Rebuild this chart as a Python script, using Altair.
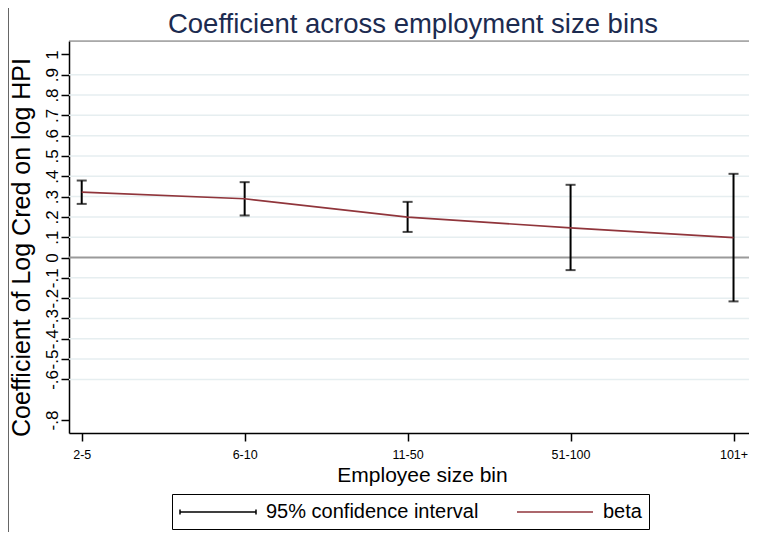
import json
import altair as alt
import pandas as pd

# ---- data ----
bins = ["2-5", "6-10", "11-50", "51-100", "101+"]
positions = [1, 2, 3, 4, 5]
beta = [0.322, 0.289, 0.199, 0.146, 0.098]
ci_low = [0.264, 0.207, 0.126, -0.062, -0.216]
ci_high = [0.379, 0.371, 0.274, 0.358, 0.412]
series_names = ["95% confidence interval", "beta"]
y_ticks = [-0.8, -0.6, -0.5, -0.4, -0.3, -0.2, -0.1, 0, 0.1, 0.2, 0.3, 0.4, 0.5, 0.6, 0.7, 0.8, 0.9, 1]
y_labels = ["-.8", "-.6", "-.5", "-.4", "-.3", "-.2", "-.1", "0", ".1", ".2", ".3", ".4", ".5", ".6", ".7", ".8", ".9", "1"]
grid_values = [-0.6, -0.5, -0.4, -0.3, -0.2, -0.1, 0.1, 0.2, 0.3, 0.4, 0.5, 0.6, 0.7, 0.8, 0.9]
zero_line = [0]
title_text = "Coefficient across employment size bins"

df = pd.DataFrame({"pos": positions, "bin": bins, "beta": beta, "lo": ci_low, "hi": ci_high})
grid_df = pd.DataFrame({"g": grid_values})
zero_df = pd.DataFrame({"z": zero_line})
one_df = pd.DataFrame({"a": [0]})

W, H = 680, 392
FONT = "Liberation Sans"
MAROON = "#90353b"

xscale = alt.Scale(domain=[0.922, 5.095], nice=False, zero=False)
yscale = alt.Scale(domain=[-0.864, 1.066], nice=False, zero=False)
cscale = alt.Scale(domain=series_names, range=["black", MAROON])

x_axis = alt.Axis(
    values=positions,
    labelExpr=json.dumps(bins) + "[datum.value - 1]",
    title="Employee size bin",
    grid=False, labelFlush=False,
    tickSize=8, tickColor="black", tickWidth=1.5,
    domainColor="black", domainWidth=1.5,
    labelFontSize=12.5, labelPadding=7, labelColor="black", labelFont=FONT,
    titleFontSize=21, titleFontWeight="normal", titleColor="black", titleFont=FONT,
    titleX=353, titleY=48, titleAlign="center", titleBaseline="alphabetic",
)
y_axis = alt.Axis(
    values=y_ticks,
    labelExpr=json.dumps(y_labels) + "[indexof(" + json.dumps(y_ticks) + ", datum.value)]",
    title="Coefficient of Log Cred on log HPI",
    grid=False, labelFlush=False, labelOverlap=False,
    tickSize=8, tickColor="black", tickWidth=1.5,
    domainColor="black", domainWidth=1.5,
    labelAngle=270, labelAlign="center", labelBaseline="alphabetic",
    labelFontSize=17, labelPadding=4, labelColor="black", labelFont=FONT,
    titleAngle=270, titleFontSize=25, titleFontWeight="normal", titleColor="black", titleFont=FONT,
    titleX=-48, titleY=206, titleAlign="center", titleBaseline="middle",
)

ci_path = "M-3.8,-0.25L-3.8,0.25M-3.8,0L3.8,0M3.8,-0.25L3.8,0.25"
beta_path = "M-3.8,0L3.8,0"
legend = alt.Legend(
    title=None, orient="none", legendX=103, legendY=453,
    direction="horizontal", columns=2, columnPadding=35, padding=7,
    strokeColor="black",
    symbolType={"expr": "datum.label == 'beta' ? '" + beta_path + "' : '" + ci_path + "'"},
    symbolSize=400, symbolOffset=28, labelOffset=37, symbolStrokeWidth=1.5,
    labelFontSize=20, labelFont=FONT, labelColor="black", labelLimit=0,
)

grid = alt.Chart(grid_df).mark_rule(color="#e6eef0", strokeWidth=1.5).encode(
    y=alt.Y("g:Q", scale=yscale, axis=y_axis)
)
zero = alt.Chart(zero_df).mark_rule(color="#9a9a9a", strokeWidth=1.8).encode(
    y=alt.Y("z:Q", scale=yscale, axis=y_axis)
)
bars = alt.Chart(df).transform_calculate(series="'95% confidence interval'").mark_rule(strokeWidth=2).encode(
    x=alt.X("pos:Q", scale=xscale, axis=x_axis),
    y=alt.Y("lo:Q", scale=yscale, axis=y_axis),
    y2="hi:Q",
    color=alt.Color("series:N", scale=cscale, legend=legend),
)
cap_lo = alt.Chart(df).mark_tick(orient="horizontal", size=10, thickness=2, color="black").encode(
    x=alt.X("pos:Q", scale=xscale, axis=x_axis), y=alt.Y("lo:Q", scale=yscale, axis=y_axis)
)
cap_hi = alt.Chart(df).mark_tick(orient="horizontal", size=10, thickness=2, color="black").encode(
    x=alt.X("pos:Q", scale=xscale, axis=x_axis), y=alt.Y("hi:Q", scale=yscale, axis=y_axis)
)
line = alt.Chart(df).transform_calculate(series="'beta'").mark_line(strokeWidth=1.6).encode(
    x=alt.X("pos:Q", scale=xscale, axis=x_axis),
    y=alt.Y("beta:Q", scale=yscale, axis=y_axis),
    color=alt.Color("series:N", scale=cscale, legend=legend),
)
top_border = alt.Chart(one_df).mark_rule(color="#777777", strokeWidth=1.2).encode(
    x=alt.value(0), x2=alt.value(W), y=alt.value(0)
)
outer_left = alt.Chart(one_df).mark_rule(color="#666666", strokeWidth=1).encode(
    x=alt.value(-60.5), y=alt.value(-33), y2=alt.value(491)
)
title = alt.Chart(one_df).mark_text(
    fontSize=27.5, font=FONT, color="#1c2b50", align="center", baseline="alphabetic"
).encode(x=alt.value(344), y=alt.value(-8), text=alt.value(title_text))

chart = alt.layer(grid, zero, bars, cap_lo, cap_hi, line, top_border, outer_left, title).properties(
    width=W, height=H,
    autosize=alt.AutoSizeParams(type="none"),
    padding={"left": 61, "top": 33, "right": 0, "bottom": 99},
).configure_view(stroke=None).configure(font=FONT)

chart.save("out.html", embed_options={"renderer": "svg", "actions": False})
